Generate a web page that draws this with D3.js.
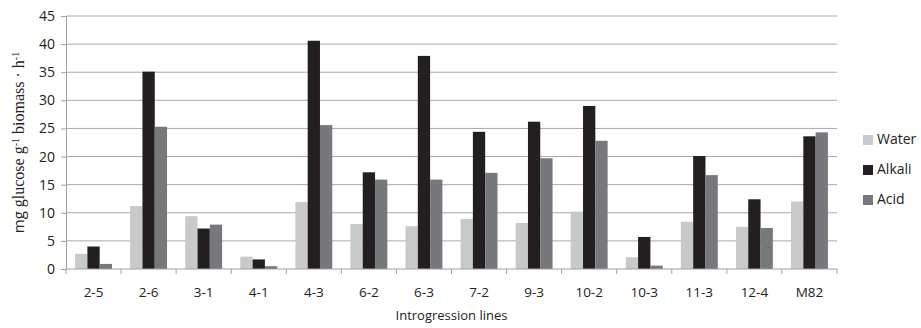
<!DOCTYPE html>
<html>
<head>
<meta charset="utf-8">
<script src="https://cdn.jsdelivr.net/npm/d3@7"></script>
<style>
  body { margin: 0; background: #fff; }
  svg { display: block; }
</style>
</head>
<body>
<div id="chart"></div>
<script>
const categories = ['2-5', '2-6', '3-1', '4-1', '4-3', '6-2', '6-3', '7-2', '9-3', '10-2', '10-3', '11-3', '12-4', 'M82'];
const seriesNames = ['Water', 'Alkali', 'Acid'];
const water  = [2.7, 11.2, 9.4, 2.2, 11.9, 8.0, 7.6, 8.9, 8.2, 10.2, 2.1, 8.4, 7.5, 12.0];
const alkali = [4.0, 35.1, 7.2, 1.7, 40.6, 17.2, 37.9, 24.4, 26.2, 29.0, 5.7, 20.1, 12.4, 23.6];
const acid   = [0.9, 25.3, 7.9, 0.5, 25.6, 15.9, 15.9, 17.1, 19.7, 22.8, 0.6, 16.7, 7.3, 24.3];
const yTicks = [0, 5, 10, 15, 20, 25, 30, 35, 40, 45];
const colors = ['#c8c9cb', '#231f20', '#77787b'];

const W = 921, H = 328;
const M = { left: 66, right: 84, top: 16, bottom: 59 };
const plotW = W - M.left - M.right;
const plotH = H - M.top - M.bottom;
const SANS = '"Open Sans", sans-serif';
const SERIF = '"Liberation Serif", "Times New Roman", serif';

const values = [water, alkali, acid];
const rows = categories.map((c, i) => ({ cat: c, vals: values.map((s) => s[i]) }));

const svg = d3.select('#chart').append('svg').attr('width', W).attr('height', H);
const g = svg.append('g').attr('transform', `translate(${M.left},${M.top})`);

const x0 = d3.scaleBand().domain(categories).range([0, plotW]).padding(0);
const bw = x0.bandwidth();
const x1 = d3.scaleBand().domain(d3.range(seriesNames.length)).range([bw * 0.165, bw * 0.835]).padding(0);
const y = d3.scaleLinear().domain([0, 45]).range([plotH, 0]);

// ── gridlines ─────────────────────────────────────────────────────────────
g.selectAll('.grid')
  .data(yTicks.filter((t) => t > 0))
  .join('line')
  .attr('x1', 0)
  .attr('x2', plotW)
  .attr('y1', (d) => y(d))
  .attr('y2', (d) => y(d))
  .attr('stroke', '#a9a9a9')
  .attr('stroke-width', 1);

// ── bars ──────────────────────────────────────────────────────────────────
const grp = g.selectAll('.grp')
  .data(rows)
  .join('g')
  .attr('transform', (d) => `translate(${x0(d.cat)},0)`);

grp.selectAll('rect')
  .data((d) => d.vals.map((v, k) => ({ v, k })))
  .join('rect')
  .attr('x', (d) => x1(d.k))
  .attr('y', (d) => y(d.v))
  .attr('width', x1.bandwidth())
  .attr('height', (d) => y(0) - y(d.v))
  .attr('fill', (d) => colors[d.k]);

// ── axes ──────────────────────────────────────────────────────────────────
const yAxis = g.append('g').call(d3.axisLeft(y).tickValues(yTicks).tickSize(5).tickPadding(6));
yAxis.select('.domain').attr('stroke', '#a0a0a0');
yAxis.selectAll('.tick line').attr('stroke', '#a0a0a0');
yAxis.selectAll('text').attr('font-family', SANS).attr('font-size', '14px').attr('fill', '#222');

const xAxis = g.append('g').attr('transform', `translate(0,${plotH})`);
xAxis.append('line').attr('x1', 0).attr('x2', plotW).attr('stroke', '#a0a0a0');
xAxis.selectAll('.sep')
  .data(d3.range(categories.length + 1))
  .join('line')
  .attr('x1', (i) => i * bw)
  .attr('x2', (i) => i * bw)
  .attr('y1', 0)
  .attr('y2', 5)
  .attr('stroke', '#a0a0a0');
xAxis.selectAll('.lbl')
  .data(categories)
  .join('text')
  .attr('x', (d) => x0(d) + bw / 2)
  .attr('y', 28)
  .attr('text-anchor', 'middle')
  .attr('font-family', SANS)
  .attr('font-size', '13.5px')
  .attr('fill', '#222')
  .text((d) => d);

// ── axis titles ───────────────────────────────────────────────────────────
svg.append('text')
  .attr('x', M.left + plotW / 2)
  .attr('y', 320)
  .attr('text-anchor', 'middle')
  .attr('font-family', SANS)
  .attr('font-size', '13px')
  .attr('fill', '#222')
  .text('Introgression lines');

const yt = svg.append('text')
  .attr('transform', `translate(24,${M.top + plotH / 2}) rotate(-90)`)
  .attr('text-anchor', 'middle')
  .attr('font-size', '16px')
  .attr('fill', '#222');
yt.append('tspan').attr('font-family', SANS).attr('font-size', '15px').text('mg ');
yt.append('tspan').attr('font-family', SERIF).text('glucose g');
yt.append('tspan').attr('font-family', SERIF).attr('font-size', '10px').attr('baseline-shift', 'super').text('-1');
yt.append('tspan').attr('font-family', SERIF).text(' biomass · h');
yt.append('tspan').attr('font-family', SERIF).attr('font-size', '10px').attr('baseline-shift', 'super').text('-1');

// ── legend ────────────────────────────────────────────────────────────────
const leg = svg.append('g').attr('transform', 'translate(863,135)');
seriesNames.forEach((name, k) => {
  const row = leg.append('g').attr('transform', `translate(0,${k * 30})`);
  row.append('rect').attr('width', 10).attr('height', 10).attr('fill', colors[k]);
  row.append('text')
    .attr('x', 14)
    .attr('y', 5)
    .attr('dominant-baseline', 'middle')
    .attr('font-family', SANS)
    .attr('font-size', '14px')
    .attr('fill', '#222')
    .text(name);
});
</script>
</body>
</html>
